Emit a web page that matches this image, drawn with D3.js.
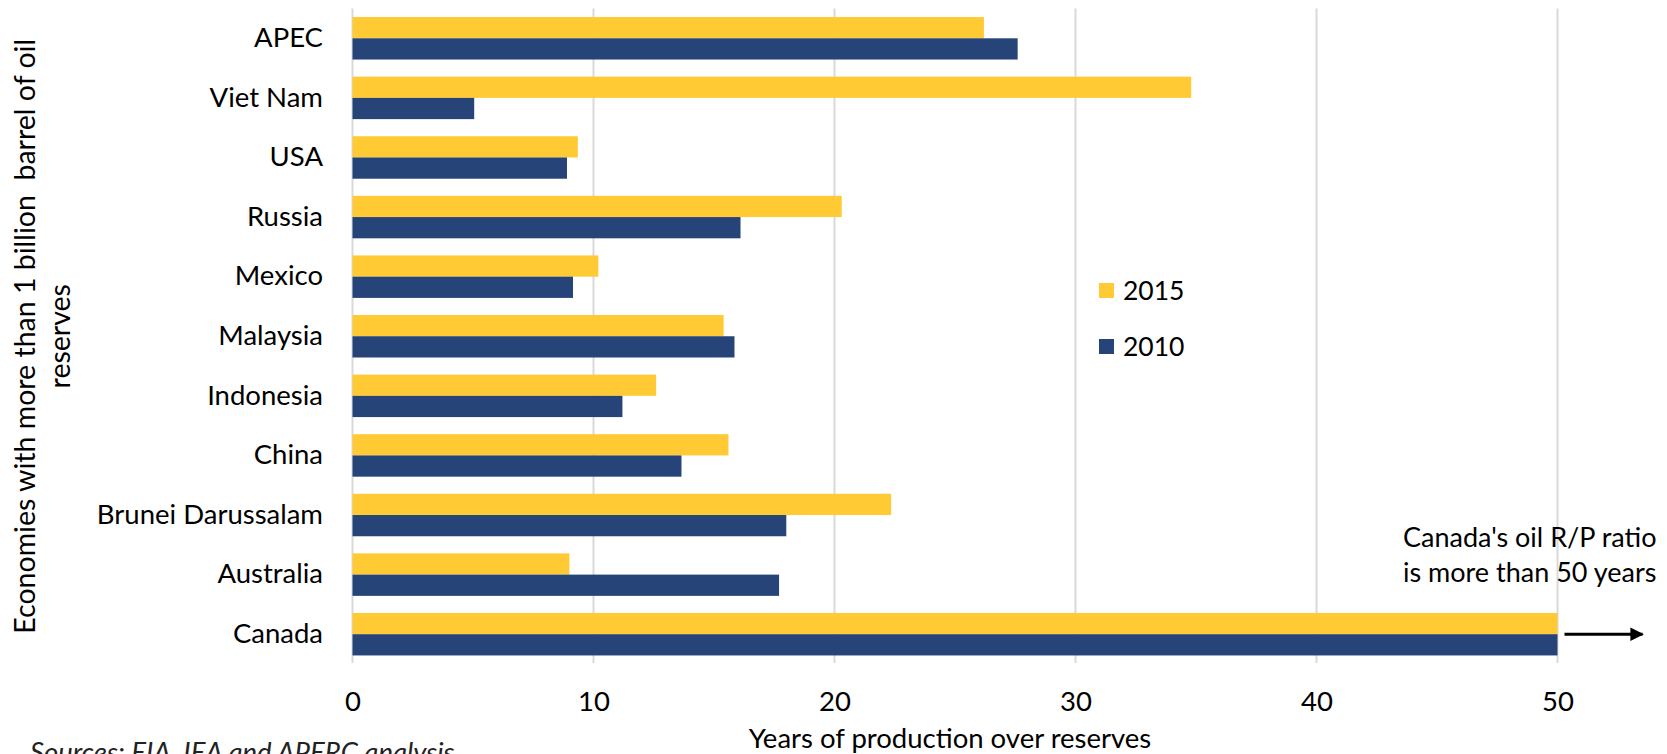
<!DOCTYPE html>
<html>
<head>
<meta charset="utf-8">
<script src="https://d3js.org/d3.v7.min.js"></script>
<style>
  body { margin: 0; background: #fff; }
  text { font-family: Lato, "Open Sans", sans-serif; fill: #000; white-space: pre; }
</style>
</head>
<body>
<div id="container"></div>
<script>
// oil reserves over production, APEC economies, 2010 vs 2015

// categories, top to bottom
var economies = ["APEC", "Viet Nam", "USA", "Russia", "Mexico", "Malaysia",
                 "Indonesia", "China", "Brunei Darussalam", "Australia", "Canada"];

// years of production (R/P ratio)
var values2015 = [26.2, 34.8, 9.35, 20.3, 10.2, 15.4, 12.6, 15.6, 22.35, 9.0, 50];
var values2010 = [27.6, 5.05, 8.9, 16.1, 9.15, 15.85, 11.2, 13.65, 18.0, 17.7, 50];

var series = ["2015", "2010"];
var xTicks = [0, 10, 20, 30, 40, 50];

var colors = {"2015": "#FFCA33", "2010": "#264478"};

var fontSize = 27.5;

// page size
var width = 1667,
    height = 754;

var svg = d3.select("#container").append("svg")
    .attr("width", width)
    .attr("height", height);

// scales
var x = d3.scaleLinear().domain([0, 50]).range([352.5, 1557.5]);

var y = d3.scaleBand()
    .domain(economies)
    .range([8.5, 664])
    .paddingInner(0.287)
    .paddingOuter(0.1435);

var ySub = d3.scaleBand()
    .domain(series)
    .range([0, y.bandwidth()]);

// vertical gridlines (the 0 one is the axis)
svg.append("g")
    .attr("class", "grid")
    .selectAll("line")
    .data(xTicks)
  .enter().append("line")
    .attr("x1", function(d) { return x(d); })
    .attr("x2", function(d) { return x(d); })
    .attr("y1", 8.5)
    .attr("y2", 663)
    .style("stroke", "#d9d9d9")
    .style("stroke-width", 2);

// x axis tick labels
var xAxis = d3.axisBottom(x)
    .tickValues(xTicks)
    .tickSize(0)
    .tickPadding(0);

var gx = svg.append("g")
    .attr("class", "x axis")
    .attr("transform", "translate(0,691)")
    .call(xAxis);
gx.select(".domain").remove();
gx.selectAll("text")
    .attr("dy", "0.71em")
    .style("font-size", fontSize + "px")
    .style("font-family", "Lato, sans-serif");

// y axis category labels
var yAxis = d3.axisLeft(y)
    .tickSize(0)
    .tickPadding(0);

var gy = svg.append("g")
    .attr("class", "y axis")
    .attr("transform", "translate(323,0)")
    .call(yAxis);
gy.select(".domain").remove();
gy.selectAll("text")
    .style("font-size", fontSize + "px")
    .style("font-family", "Lato, sans-serif");

// the bars
var rows = economies.map(function(e, i) {
  return {name: e, "2015": values2015[i], "2010": values2010[i]};
});

var groups = svg.selectAll(".row")
    .data(rows)
  .enter().append("g")
    .attr("class", "row")
    .attr("transform", function(d) { return "translate(0," + y(d.name) + ")"; });

groups.selectAll("rect")
    .data(function(d) { return series.map(function(s) { return {key: s, value: d[s]}; }); })
  .enter().append("rect")
    .attr("x", x(0))
    .attr("y", function(d) { return ySub(d.key); })
    .attr("width", function(d) { return x(d.value) - x(0); })
    .attr("height", ySub.bandwidth())
    .style("fill", function(d) { return colors[d.key]; });

// legend
var legend = svg.selectAll(".legend")
    .data(series)
  .enter().append("g")
    .attr("class", "legend")
    .attr("transform", function(d, i) { return "translate(1099," + (283 + i * 56) + ")"; });

legend.append("rect")
    .attr("width", 15)
    .attr("height", 15)
    .style("fill", function(d) { return colors[d]; });

legend.append("text")
    .attr("x", 24)
    .attr("y", 7.5)
    .attr("dy", "0.35em")
    .style("font-size", "26.5px")
    .text(function(d) { return d; });

// x axis title
svg.append("text")
    .attr("x", 950)
    .attr("y", 748)
    .attr("text-anchor", "middle")
    .style("font-size", fontSize + "px")
    .text("Years of production over reserves");

// y axis title, two lines
var ytitle = svg.append("text")
    .attr("transform", "translate(35," + ((y.range()[0] + y.range()[1]) / 2) + ") rotate(-90)")
    .attr("text-anchor", "middle")
    .style("font-size", "28.5px");
ytitle.append("tspan")
    .attr("x", 0)
    .attr("y", 0)
    .text("Economies with more than 1 billion  barrel of oil");
ytitle.append("tspan")
    .attr("x", 0)
    .attr("y", 35)
    .text("reserves");

// canada annotation
svg.append("text")
    .attr("x", 1403)
    .attr("y", 547)
    .style("font-size", "27px")
    .text("Canada's oil R/P ratio");
svg.append("text")
    .attr("x", 1403)
    .attr("y", 582)
    .style("font-size", "27px")
    .text("is more than 50 years");

// arrow pointing past 50
svg.append("defs").append("marker")
    .attr("id", "arrowhead")
    .attr("viewBox", "0 0 10 10")
    .attr("refX", 9)
    .attr("refY", 5)
    .attr("markerWidth", 5)
    .attr("markerHeight", 4.5)
    .attr("markerUnits", "strokeWidth")
    .attr("orient", "auto")
  .append("path")
    .attr("d", "M0,0 L10,5 L0,10 z")
    .style("fill", "#000");

var canadaY = y("Canada") + y.bandwidth() / 2;
svg.append("line")
    .attr("x1", x(50) + 7)
    .attr("x2", x(50) + 85)
    .attr("y1", canadaY)
    .attr("y2", canadaY)
    .style("stroke", "#000")
    .style("stroke-width", 3)
    .attr("marker-end", "url(#arrowhead)");

// source note, mostly cut off by the bottom edge as in the original
svg.append("text")
    .attr("x", 30)
    .attr("y", 762)
    .style("font-size", fontSize + "px")
    .style("font-style", "italic")
    .style("fill", "#222")
    .text("Sources: EIA, IEA and APERC analysis");
</script>
</body>
</html>
